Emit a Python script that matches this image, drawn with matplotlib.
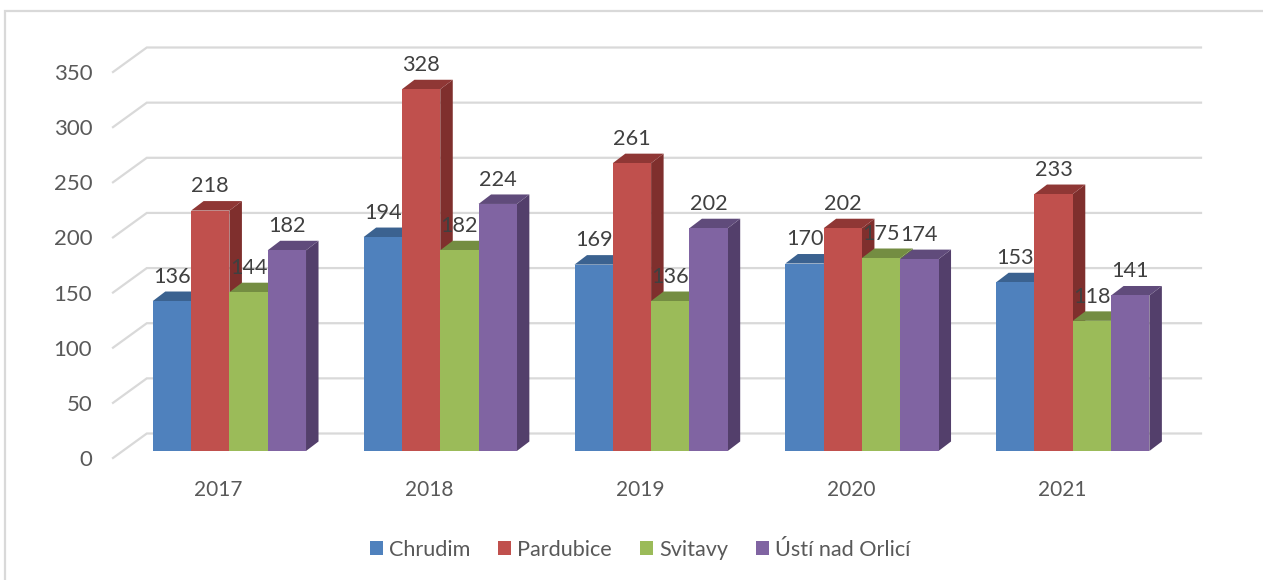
import matplotlib
matplotlib.use("Agg")
import matplotlib.pyplot as plt
from matplotlib.patches import Polygon, Rectangle, Patch

plt.rcParams['font.family'] = ['Lato', 'DejaVu Sans']

years = ['2017', '2018', '2019', '2020', '2021']
series_names = ['Chrudim', 'Pardubice', 'Svitavy', 'Ústí nad Orlicí']
chrudim = [136, 194, 169, 170, 153]
pardubice = [218, 328, 261, 202, 233]
svitavy = [144, 182, 136, 175, 118]
usti = [182, 224, 202, 174, 141]
series = [chrudim, pardubice, svitavy, usti]
front_colors = ['#4F81BD', '#C0504D', '#9BBB59', '#8064A2']
top_colors = ['#3B6290', '#8F3735', '#748D42', '#604B7B']
side_colors = ['#2F4F75', '#7F2F2D', '#637A38', '#533F6B']
y_ticks = [0, 50, 100, 150, 200, 250, 300, 350]

W, H = 1263, 580
fig = plt.figure(figsize=(W / 100, H / 100), dpi=100, facecolor='white')

# Front plane of the 3D box, in pixels
left, right, bottom, top = 113, 1167.2, 458, 72
ax = fig.add_axes([left / W, 1 - bottom / H, (right - left) / W, (bottom - top) / H])
ax.set_xlim(-0.5, 4.5)
ax.set_ylim(0, 350)
ax.patch.set_alpha(0)
for s in ax.spines.values():
    s.set_visible(False)

px_x = 5 / (right - left)          # category units per pixel
px_y = 350 / (bottom - top)        # value units per pixel

# Wall depth and bar depth (pixels converted to data units)
wall_dx, wall_dy = 33.8 * px_x, 24.5 * px_y
shift_dx, shift_dy = 11 * px_x, 7 * px_y
bar_dx, bar_dy = 12.5 * px_x, 9.5 * px_y
bar_w = 38.3 * px_x

grid_c = '#D9D9D9'
for v in y_ticks:
    ax.plot([-0.5, -0.5 + wall_dx, 4.5 + wall_dx], [v, v + wall_dy, v + wall_dy],
            color=grid_c, lw=1.6, clip_on=False, zorder=1, solid_joinstyle='miter')

z = 2
for c in range(len(years)):
    for s, vals in enumerate(series):
        x0 = c + shift_dx + (s - 2) * bar_w
        x1 = x0 + bar_w
        y0 = shift_dy
        y1 = vals[c] + shift_dy
        ax.bar(x0, vals[c], width=bar_w, bottom=y0, align='edge', color=front_colors[s],
               clip_on=False, zorder=z + 0.2, linewidth=0)
        ax.add_patch(Polygon([(x1, y0), (x1 + bar_dx, y0 + bar_dy), (x1 + bar_dx, y1 + bar_dy), (x1, y1)],
                             closed=True, facecolor=side_colors[s], edgecolor='none',
                             clip_on=False, zorder=z))
        ax.add_patch(Polygon([(x0, y1), (x0 + bar_dx, y1 + bar_dy), (x1 + bar_dx, y1 + bar_dy), (x1, y1)],
                             closed=True, facecolor=top_colors[s], edgecolor='none',
                             clip_on=False, zorder=z + 0.1))
        z += 1
        ax.text((x0 + x1) / 2, y1 + 24.3 * px_y, str(vals[c]), ha='center', va='center',
                fontsize=15.6, color='#404040', zorder=100, clip_on=False)

ax.set_xticks(range(len(years)))
ax.set_xticklabels(years)
ax.set_yticks(y_ticks)
ax.tick_params(axis='both', length=0, labelcolor='#595959')
ax.tick_params(axis='x', pad=16, labelsize=15)
ax.tick_params(axis='y', pad=15, labelsize=16)

# Chart frame
fig.add_artist(Rectangle((5 / W, -0.02), (W + 20) / W, 1 - 11 / H + 0.02,
                         transform=fig.transFigure, fill=False, edgecolor=grid_c, lw=1.6))

handles = [Patch(facecolor=col, edgecolor='none') for col in front_colors]
fig.legend(handles, series_names, ncols=4, loc='center', bbox_to_anchor=(640 / W, 1 - 549.5 / H),
           frameon=False, fontsize=15.6, labelcolor='#595959', handlelength=0.62, handleheight=0.62,
           handletextpad=0.27, columnspacing=1.28, borderpad=0)

fig.savefig('out.png', dpi=100, facecolor='white')
